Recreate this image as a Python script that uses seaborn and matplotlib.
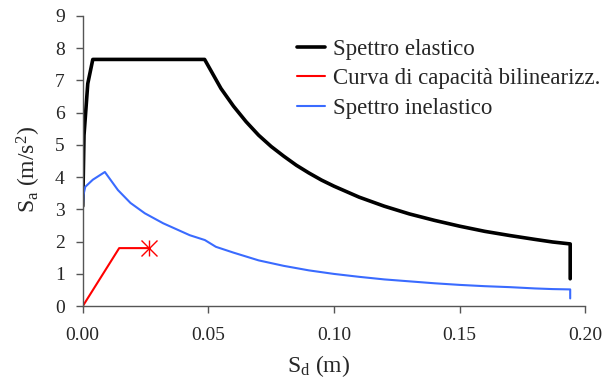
import pandas as pd
import matplotlib.pyplot as plt
import seaborn as sns

# spettro elastico (Sd, Sa)
sd_el = [0.000, 0.0005, 0.002, 0.004, 0.0485, 0.055, 0.060, 0.065, 0.070, 0.075, 0.080,
         0.085, 0.090, 0.095, 0.100, 0.110, 0.120, 0.130, 0.140, 0.150, 0.160, 0.170,
         0.180, 0.187, 0.194, 0.194]
sa_el = [3.10, 5.30, 6.90, 7.65, 7.65, 6.75, 6.20, 5.72, 5.30, 4.95, 4.65,
         4.37, 4.13, 3.91, 3.72, 3.38, 3.10, 2.86, 2.66, 2.48, 2.32, 2.19,
         2.07, 1.99, 1.93, 0.85]

# spettro inelastico
sd_in = [0.000, 0.0003, 0.001, 0.004, 0.0088, 0.014, 0.019, 0.0247, 0.032, 0.0426, 0.0486,
         0.053, 0.060, 0.070, 0.080, 0.090, 0.100, 0.110, 0.120, 0.130, 0.140, 0.150,
         0.160, 0.170, 0.180, 0.187, 0.194, 0.194]
sa_in = [3.05, 3.45, 3.70, 3.92, 4.16, 3.60, 3.20, 2.88, 2.57, 2.20, 2.05,
         1.84, 1.66, 1.42, 1.25, 1.11, 1.00, 0.91, 0.83, 0.77, 0.71, 0.66,
         0.62, 0.59, 0.55, 0.53, 0.52, 0.24]

# curva di capacita bilineare
sd_cap = [0.0, 0.0145, 0.0264]
sa_cap = [0.0, 1.80, 1.80]

el = pd.DataFrame({'Sd': sd_el, 'Sa': sa_el})
ine = pd.DataFrame({'Sd': sd_in, 'Sa': sa_in})
cap = pd.DataFrame({'Sd': sd_cap, 'Sa': sa_cap})

sns.set_style('ticks')
plt.rcParams['font.family'] = ['Liberation Serif', 'DejaVu Serif']
plt.rcParams['mathtext.fontset'] = 'custom'
plt.rcParams['mathtext.rm'] = 'Liberation Serif'
plt.rcParams['mathtext.it'] = 'Liberation Serif'

fig, ax = plt.subplots(figsize=(6.04, 3.78), dpi=100)
fig.subplots_adjust(left=0.137, right=0.969, bottom=0.19, top=0.958)

sns.lineplot(data=el, x='Sd', y='Sa', sort=False, estimator=None, color='black',
             linewidth=2.6, label='Spettro elastico', ax=ax)
sns.lineplot(data=cap, x='Sd', y='Sa', sort=False, estimator=None, color='#FF0000',
             linewidth=1.5, label='Curva di capacità bilinearizz.', ax=ax)
sns.lineplot(data=ine, x='Sd', y='Sa', sort=False, estimator=None, color='#3A6BFF',
             linewidth=1.5, label='Spettro inelastico', ax=ax)
# marcatore stella a fine curva
for m in ['x', '|']:
    ax.plot(sd_cap[-1], sa_cap[-1], marker=m, color='#FF0000', markersize=12,
            markeredgewidth=1.0, linestyle='none')

ax.set_xlim(0, 0.20)
ax.set_ylim(0, 9)
ax.set_xticks([0, 0.05, 0.10, 0.15, 0.20])
ax.set_xticklabels(['0.00', '0.05', '0.10', '0.15', '0.20'])
ax.set_yticks(range(0, 10))
ax.tick_params(labelsize=14, length=5, width=1, color='#555555')
ax.tick_params(axis='x', pad=10)
ax.tick_params(axis='y', pad=8)
for side in ['right', 'top']:
    ax.spines[side].set_visible(False)
for side in ['left', 'bottom']:
    ax.spines[side].set_color('#555555')
    ax.spines[side].set_linewidth(1)

ax.set_xlabel('S$_{\\mathrm{d}}$ (m)', fontsize=17, va='center')
ax.set_ylabel('S$_{\\mathrm{a}}$ (m/s$^{2}$)', fontsize=17, va='center')
ax.xaxis.set_label_coords(0.47, -0.207)
ax.yaxis.set_label_coords(-0.108, 0.472)

ax.legend(loc='upper left', bbox_to_anchor=(0.4917, 0.897), bbox_transform=fig.transFigure,
          frameon=False, fontsize=16.5, handlelength=1.22, handletextpad=0.35,
          labelspacing=0.37, borderaxespad=0, borderpad=0)

plt.savefig('out.png', dpi=100)
